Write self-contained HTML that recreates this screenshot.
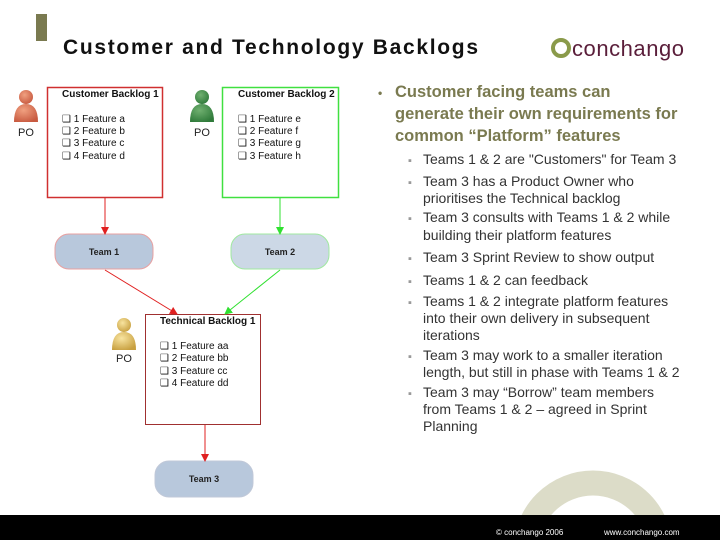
<!DOCTYPE html>
<html><head><meta charset="utf-8"><style>html,body{margin:0;background:#fff;width:720px;height:540px;overflow:hidden}svg{display:block}</style></head><body>
<svg width="720" height="540" viewBox="0 0 720 540" xmlns="http://www.w3.org/2000/svg" font-family="Liberation Sans, Arial, sans-serif" overflow="hidden">
<defs>
<marker id="ar" markerWidth="8" markerHeight="8" refX="7" refY="4" orient="auto" markerUnits="userSpaceOnUse"><path d="M0,0 L8,4 L0,8 z" fill="#e02020"/></marker>
<marker id="ag" markerWidth="8" markerHeight="8" refX="7" refY="4" orient="auto" markerUnits="userSpaceOnUse"><path d="M0,0 L8,4 L0,8 z" fill="#30e030"/></marker>
<radialGradient id="gr" cx="0.4" cy="0.35" r="0.7"><stop offset="0" stop-color="#f0a080"/><stop offset="1" stop-color="#c85a40"/></radialGradient>
<radialGradient id="gg" cx="0.4" cy="0.35" r="0.7"><stop offset="0" stop-color="#70b070"/><stop offset="1" stop-color="#2f7a3a"/></radialGradient>
<radialGradient id="gy" cx="0.4" cy="0.35" r="0.7"><stop offset="0" stop-color="#f8e4a0"/><stop offset="1" stop-color="#c8a040"/></radialGradient>
<clipPath id="cp"><rect x="0" y="0" width="720" height="515"/></clipPath>
</defs>
<circle cx="593" cy="550" r="67" fill="none" stroke="#dcdcc8" stroke-width="25" clip-path="url(#cp)"/>
<rect x="36" y="14" width="11" height="27" fill="#7a7a50"/>
<text x="63" y="54" font-size="21" font-weight="bold" fill="#111" textLength="415">Customer and Technology Backlogs</text>
<circle cx="561" cy="48" r="8" fill="none" stroke="#8a9a4a" stroke-width="4"/>
<text x="572" y="56" font-size="22" fill="#5a1e3a" textLength="112">conchango</text>
<g fill="url(#gr)"><circle cx="26" cy="97" r="7"/><path d="M14,122 Q14,104 26,104 Q38,104 38,122 z"/></g>
<g fill="url(#gg)"><circle cx="202" cy="97" r="7"/><path d="M190,122 Q190,104 202,104 Q214,104 214,122 z"/></g>
<g fill="url(#gy)"><circle cx="124" cy="325" r="7"/><path d="M112,350 Q112,332 124,332 Q136,332 136,350 z"/></g>
<g font-size="11" fill="#222"><text x="18" y="136">PO</text><text x="194" y="136">PO</text><text x="116" y="362">PO</text></g>
<rect x="47.5" y="87.5" width="115" height="110" fill="#fff" stroke="#d03030" stroke-width="1.5"/>
<rect x="222.5" y="87.5" width="116" height="110" fill="#fff" stroke="#40e040" stroke-width="1.5"/>
<rect x="145.5" y="314.5" width="115" height="110" fill="#fff" stroke="#a03030" stroke-width="1"/>
<g font-size="10" fill="#111">
<text x="62" y="97" font-weight="bold">Customer Backlog 1</text>
<text x="62" y="122">❑ 1 Feature a</text><text x="62" y="134">❑ 2 Feature b</text><text x="62" y="146">❑ 3 Feature c</text><text x="62" y="159">❑ 4 Feature d</text>
<text x="238" y="97" font-weight="bold">Customer Backlog 2</text>
<text x="238" y="122">❑ 1 Feature e</text><text x="238" y="134">❑ 2 Feature f</text><text x="238" y="146">❑ 3 Feature g</text><text x="238" y="159">❑ 3 Feature h</text>
<text x="160" y="324" font-weight="bold">Technical Backlog 1</text>
<text x="160" y="349">❑ 1 Feature aa</text><text x="160" y="361">❑ 2 Feature bb</text><text x="160" y="374">❑ 3 Feature cc</text><text x="160" y="386">❑ 4 Feature dd</text>
</g>
<rect x="55" y="234" width="98" height="35" rx="14" fill="#b8c8dc" stroke="#e8a0a0"/>
<rect x="231" y="234" width="98" height="35" rx="14" fill="#ccd8e6" stroke="#a0e8a0"/>
<rect x="155" y="461" width="98" height="36" rx="14" fill="#b8c8dc" stroke="#c0c8d8"/>
<g font-size="9" font-weight="bold" fill="#222" text-anchor="middle">
<text x="104" y="255">Team 1</text><text x="280" y="255">Team 2</text><text x="204" y="482">Team 3</text></g>
<line x1="105" y1="198" x2="105" y2="234" stroke="#e02020" marker-end="url(#ar)"/>
<line x1="280" y1="198" x2="280" y2="234" stroke="#30e030" marker-end="url(#ag)"/>
<line x1="105" y1="270" x2="177" y2="314" stroke="#e02020" marker-end="url(#ar)"/>
<line x1="280" y1="270" x2="225" y2="314" stroke="#30e030" marker-end="url(#ag)"/>
<line x1="205" y1="425" x2="205" y2="461" stroke="#e02020" marker-end="url(#ar)"/>
<g font-size="16.5" fill="#7a7a50" font-weight="bold">
<text x="378" y="97" font-size="12">•</text>
<text x="395" y="97">Customer facing teams can</text>
<text x="395" y="119">generate their own requirements for</text>
<text x="395" y="141">common “Platform” features</text>
</g>
<g font-size="14" fill="#333">
<g fill="#999" font-size="11"><text x="408" y="164">▪</text><text x="408" y="186">▪</text><text x="408" y="222">▪</text><text x="408" y="262">▪</text><text x="408" y="285">▪</text><text x="408" y="306">▪</text><text x="408" y="360">▪</text><text x="408" y="397">▪</text></g>
<text x="423" y="164">Teams 1 &amp; 2 are "Customers" for Team 3</text>
<text x="423" y="186">Team 3 has a Product Owner who</text>
<text x="423" y="203">prioritises the Technical backlog</text>
<text x="423" y="222">Team 3 consults with Teams 1 &amp; 2 while</text>
<text x="423" y="240">building their platform features</text>
<text x="423" y="262">Team 3 Sprint Review to show output</text>
<text x="423" y="285">Teams 1 &amp; 2 can feedback</text>
<text x="423" y="306">Teams 1 &amp; 2 integrate platform features</text>
<text x="423" y="323">into their own delivery in subsequent</text>
<text x="423" y="340">iterations</text>
<text x="423" y="360">Team 3 may work to a smaller iteration</text>
<text x="423" y="377">length, but still in phase with Teams 1 &amp; 2</text>
<text x="423" y="397">Team 3 may “Borrow” team members</text>
<text x="423" y="414">from Teams 1 &amp; 2 – agreed in Sprint</text>
<text x="423" y="431">Planning</text>
</g>
<rect x="0" y="515" width="720" height="25" fill="#000"/>
<g font-size="8" fill="#fff"><text x="496" y="535">© conchango 2006</text><text x="604" y="535">www.conchango.com</text></g>
</svg>
</body></html>
